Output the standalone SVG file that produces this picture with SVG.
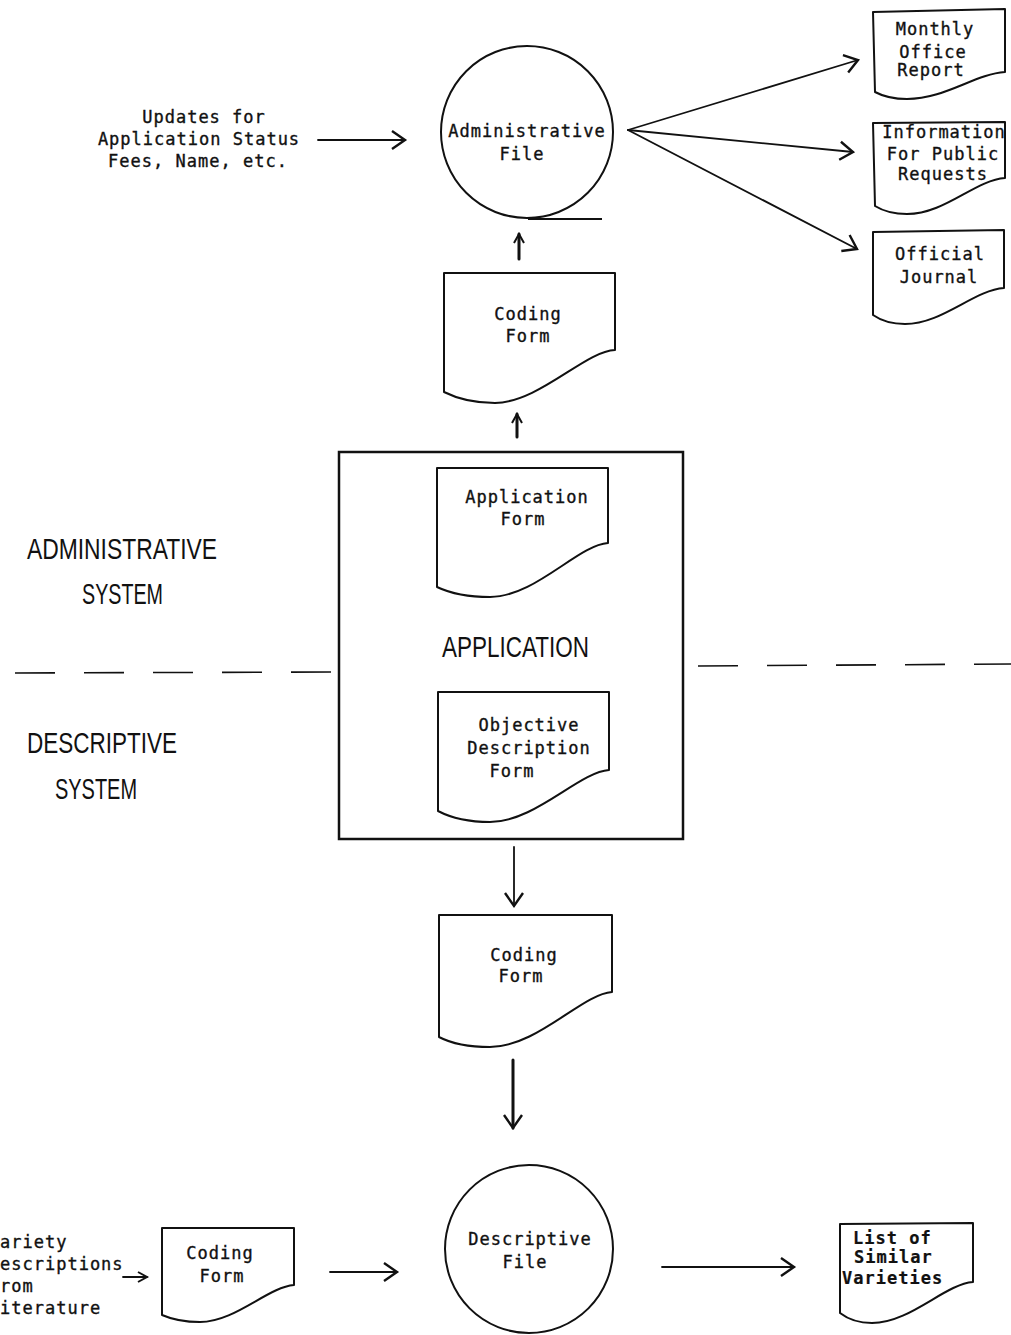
<svg xmlns="http://www.w3.org/2000/svg" width="1011" height="1335" viewBox="0 0 1011 1335">
  <style>
    .bg { fill: #ffffff; }
    .shape { fill: none; stroke: #111; stroke-width: 2; stroke-linejoin: round; }
    .box { fill: none; stroke: #111; stroke-width: 2.5; }
    .conn { fill: none; stroke: #111; stroke-width: 1.8; stroke-linecap: round; }
    .thick { stroke-width: 3; }
    .dash { fill: none; stroke: #111; stroke-width: 1.6; stroke-dasharray: 40 29; }
    .tw { font-family: "DejaVu Sans Mono", "Liberation Mono", monospace; font-size: 17px; letter-spacing: 1px; fill: #111; stroke: #111; stroke-width: 0.35; }
    .c { text-anchor: middle; }
    .b { font-weight: bold; stroke-width: 0.2; }
    .big { font-family: "Liberation Sans", "DejaVu Sans", sans-serif; font-size: 30px; fill: #111; }
  </style>
  <defs>
    <marker id="arrow" viewBox="-2 -11 17 22" refX="13" refY="0" markerWidth="17" markerHeight="22" markerUnits="userSpaceOnUse" orient="auto" overflow="visible">
      <path d="M0,-9 L13,0 L0,9" fill="none" stroke="#111" stroke-width="2.4" stroke-linejoin="miter"/>
    </marker>
    <marker id="arrowSm" viewBox="-2 -7 12 14" refX="9" refY="0" markerWidth="12" markerHeight="14" markerUnits="userSpaceOnUse" orient="auto" overflow="visible">
      <path d="M0,-5 L9,0 L0,5" fill="none" stroke="#111" stroke-width="2" stroke-linejoin="miter"/>
    </marker>
  </defs>

  <rect class="bg" x="0" y="0" width="1011" height="1335"/>

  <!-- section labels and divider -->
  <g id="section-labels">
    <text class="big" x="27" y="559" textLength="190" lengthAdjust="spacingAndGlyphs">ADMINISTRATIVE</text>
    <text class="big" x="82" y="604" textLength="81" lengthAdjust="spacingAndGlyphs">SYSTEM</text>
    <text class="big" x="27" y="753" textLength="150" lengthAdjust="spacingAndGlyphs">DESCRIPTIVE</text>
    <text class="big" x="55" y="799" textLength="82" lengthAdjust="spacingAndGlyphs">SYSTEM</text>
  </g>
  <g id="divider">
    <line class="dash" x1="15" y1="673" x2="332" y2="672"/>
    <line class="dash" x1="698" y1="666" x2="1011" y2="664"/>
  </g>

  <!-- input note for the administrative file -->
  <g id="updates-note">
    <text class="tw c" x="204" y="123">Updates for</text>
    <text class="tw c" x="199" y="145">Application Status</text>
    <text class="tw c" x="198" y="167">Fees, Name, etc.</text>
  </g>

  <g id="administrative-file">
    <circle class="shape" cx="527" cy="132" r="86"/>
    <line class="shape" x1="528" y1="219" x2="602" y2="219"/>
    <text class="tw c" x="527" y="137">Administrative</text>
    <text class="tw c" x="522" y="160">File</text>
  </g>

  <g id="monthly-office-report">
    <path class="shape" d="M873,12 L1005,9 V72 C975,74 945,99 907,99 Q888,99 875,92 Z"/>
    <text class="tw c" x="935" y="35">Monthly</text>
    <text class="tw c" x="933" y="58">Office</text>
    <text class="tw c" x="931" y="76">Report</text>
  </g>

  <g id="public-requests">
    <path class="shape" d="M873,123 L1005,122 V178 C975,180 945,214 907,214 Q888,214 875,206 Z"/>
    <text class="tw c" x="944" y="138">Information</text>
    <text class="tw c" x="943" y="160">For Public</text>
    <text class="tw c" x="943" y="180">Requests</text>
  </g>

  <g id="official-journal">
    <path class="shape" d="M873,232 L1004,230 V288 C974,290 942,324 905,324 Q886,324 873,315 Z"/>
    <text class="tw c" x="940" y="260">Official</text>
    <text class="tw c" x="939" y="283">Journal</text>
  </g>

  <g id="coding-form-admin">
    <path class="shape" d="M444,273 H615 V350 C585,351 540,402 495,403 Q466,403 444,392 Z"/>
    <text class="tw c" x="528" y="320">Coding</text>
    <text class="tw c" x="528" y="342">Form</text>
  </g>

  <g id="application">
    <rect class="box" x="339" y="452" width="344" height="387"/>
    <text class="big" x="442" y="657" textLength="147" lengthAdjust="spacingAndGlyphs">APPLICATION</text>
  </g>

  <g id="application-form">
    <path class="shape" d="M437,468 H608 V543 C578,545 535,597 490,597 Q458,597 437,587 Z"/>
    <text class="tw c" x="527" y="503">Application</text>
    <text class="tw c" x="523" y="525">Form</text>
  </g>

  <g id="objective-description-form">
    <path class="shape" d="M438,692 H609 V770 C579,772 535,822 490,822 Q459,822 438,811 Z"/>
    <text class="tw c" x="529" y="731">Objective</text>
    <text class="tw c" x="529" y="754">Description</text>
    <text class="tw c" x="512" y="777">Form</text>
  </g>

  <g id="coding-form-descriptive">
    <path class="shape" d="M439,915 H612 V992 C582,994 537,1047 490,1047 Q458,1047 439,1037 Z"/>
    <text class="tw c" x="524" y="961">Coding</text>
    <text class="tw c" x="521" y="982">Form</text>
  </g>

  <g id="literature-note">
    <text class="tw" x="0" y="1248">ariety</text>
    <text class="tw" x="0" y="1270">escriptions</text>
    <text class="tw" x="0" y="1292">rom</text>
    <text class="tw" x="0" y="1314">iterature</text>
  </g>

  <g id="coding-form-literature">
    <path class="shape" d="M162,1228 H294 V1285 C268,1287 235,1322 200,1322 Q178,1322 162,1315 Z"/>
    <text class="tw c" x="220" y="1259">Coding</text>
    <text class="tw c" x="222" y="1282">Form</text>
  </g>

  <g id="descriptive-file">
    <circle class="shape" cx="529" cy="1249" r="84"/>
    <text class="tw c" x="530" y="1245">Descriptive</text>
    <text class="tw c" x="525" y="1268">File</text>
  </g>

  <g id="similar-varieties">
    <path class="shape" d="M840,1224 L973,1223 V1282 C945,1284 910,1323 872,1323 Q853,1323 840,1313 Z"/>
    <text class="tw b" x="853" y="1244">List of</text>
    <text class="tw b" x="854" y="1263">Similar</text>
    <text class="tw b" x="842" y="1284">Varieties</text>
  </g>

  <!-- connectors -->
  <g id="connectors">
    <line class="conn" x1="318" y1="140" x2="405" y2="140" marker-end="url(#arrow)"/>
    <line class="conn" x1="628" y1="130" x2="858" y2="60" marker-end="url(#arrow)"/>
    <line class="conn" x1="628" y1="130" x2="853" y2="152" marker-end="url(#arrow)"/>
    <line class="conn" x1="628" y1="130" x2="857" y2="249" marker-end="url(#arrow)"/>
    <line class="conn thick" x1="519" y1="259" x2="519" y2="234" marker-end="url(#arrowSm)"/>
    <line class="conn thick" x1="517" y1="437" x2="517" y2="414" marker-end="url(#arrowSm)"/>
    <line class="conn" x1="514" y1="847" x2="514" y2="906" marker-end="url(#arrow)"/>
    <line class="conn thick" x1="513" y1="1060" x2="513" y2="1128" marker-end="url(#arrow)"/>
    <line class="conn" x1="123" y1="1277" x2="147" y2="1277" marker-end="url(#arrowSm)"/>
    <line class="conn" x1="330" y1="1272" x2="397" y2="1272" marker-end="url(#arrow)"/>
    <line class="conn" x1="662" y1="1267" x2="794" y2="1267" marker-end="url(#arrow)"/>
  </g>
</svg>
